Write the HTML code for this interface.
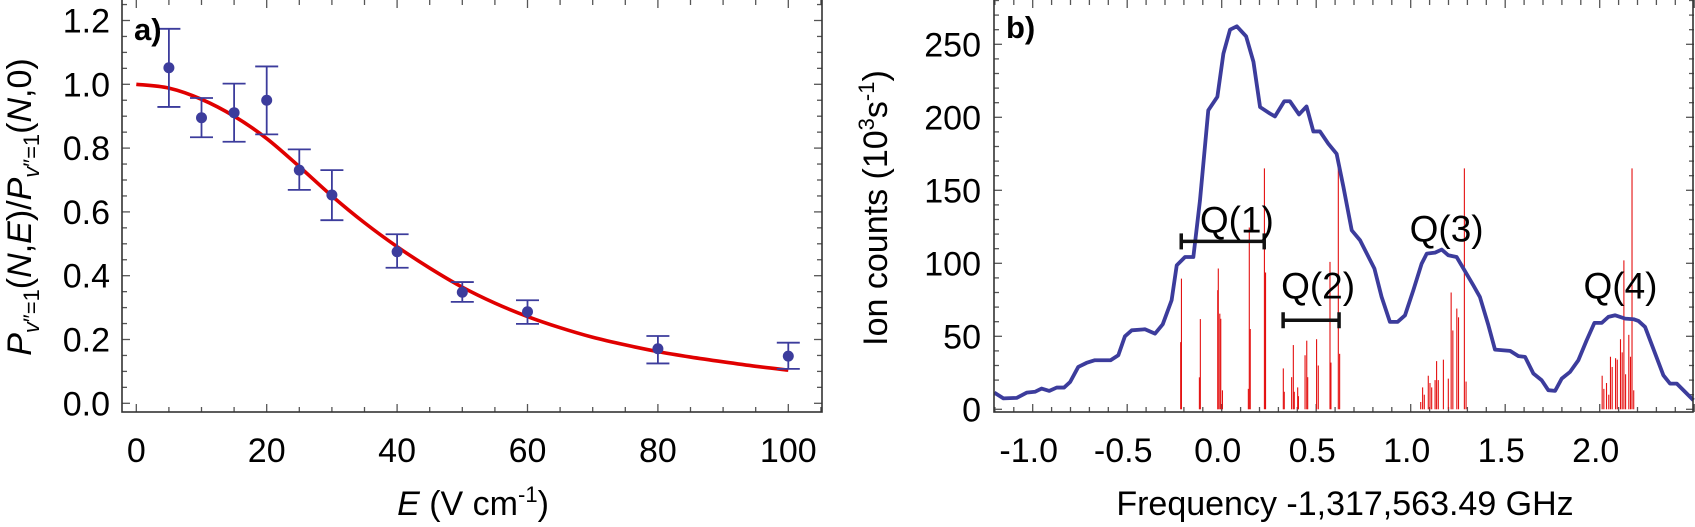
<!DOCTYPE html>
<html><head><meta charset="utf-8"><style>
html,body{margin:0;padding:0;background:#fff}
svg{display:block;font-family:"Liberation Sans",Arial,sans-serif}
</style></head><body>
<svg id="fig" width="1695" height="527" viewBox="0 0 1695 527" xmlns="http://www.w3.org/2000/svg">
<g id="pa"></g>
<g id="pb"></g>
</svg>
<script>
// ---- Panel a data ----
const eField = [5,10,15,20,25,30,40,50,60,80,100];
const ratio  = [1.052,0.895,0.911,0.950,0.731,0.653,0.475,0.348,0.287,0.171,0.148];
const errHi  = [1.174,0.957,1.002,1.056,0.796,0.731,0.530,0.380,0.323,0.211,0.190];
const errLo  = [0.929,0.834,0.820,0.843,0.669,0.574,0.425,0.318,0.249,0.125,0.108];
const fitE   = [0,5,10,15,20,25,30,35,40,45,50,55,60,65,70,75,80,85,90,95,100];
const fitV   = [1.0,0.988,0.953,0.900,0.830,0.742,0.650,0.566,0.491,0.424,0.364,0.314,0.272,0.237,0.207,0.183,0.162,0.145,0.130,0.116,0.104];
const aXTicks = [0,20,40,60,80,100];
const aYTicks = [0.0,0.2,0.4,0.6,0.8,1.0,1.2];
// ---- Panel b data ----
const specF = [-1.203,-1.155,-1.085,-1.032,-0.988,-0.953,-0.912,-0.873,-0.834,-0.802,-0.759,-0.715,-0.671,-0.588,-0.547,-0.512,-0.476,-0.406,-0.353,-0.312,-0.265,-0.238,-0.194,-0.150,-0.115,-0.071,-0.023,0.009,0.044,0.080,0.129,0.168,0.203,0.256,0.282,0.331,0.361,0.409,0.449,0.485,0.520,0.564,0.608,0.644,0.688,0.732,0.808,0.846,0.890,0.931,0.970,1.014,1.058,1.085,1.129,1.164,1.199,1.243,1.331,1.366,1.411,1.446,1.526,1.570,1.605,1.649,1.693,1.728,1.764,1.799,1.843,1.887,1.931,1.972,2.011,2.046,2.082,2.135,2.179,2.205,2.240,2.337,2.372,2.408,2.496];
const specV = [11.4,7.5,7.8,11.4,12,14.2,12.6,14.9,14.9,18.7,29,31.8,33.6,33.6,37,50,54.1,54.8,51.8,58.2,74.7,98.6,104.3,104.3,143,204.8,214,243.6,260,262.3,255.5,238,207,202.5,200.6,211,211,202,207.4,190.3,190.3,181.9,175,152.3,122.6,115.8,96.4,77,59.9,59.9,64.4,81.6,99.8,106.6,107.3,109.4,105.5,104.3,85,77,57.6,40.9,40,36.4,35.9,24.5,19.9,13.1,12.6,21,25.6,33.6,47.3,59.2,59.2,63.3,64.4,62.1,61.7,60.5,56.4,23.3,17.6,17.6,6.2];
const stickF = [-0.217,-0.213,-0.118,-0.113,-0.021,-0.018,-0.010,-0.005,0.004,0.141,0.146,0.151,0.226,0.232,
 0.326,0.331,0.370,0.379,0.384,0.402,0.406,0.441,0.450,0.455,0.502,0.511,0.573,0.578,0.617,0.624,
 1.053,1.063,1.072,1.093,1.102,1.111,1.129,1.137,1.146,1.173,1.199,1.214,1.223,1.244,1.253,1.284,1.293,
 2.013,2.022,2.036,2.048,2.057,2.066,2.084,2.093,2.110,2.119,2.128,2.137,2.154,2.163,2.171,2.180];
const stickV = [46,89.5,21.9,61.8,81.6,96.4,65.5,62,13,14,124.5,55,165,93.7,
 28,12,22,44,12,15,9,37,47,22,48,30,101,32,165,38,
 5,15,10,23,18,15,20,33,20,34,21,80,54,69,63,165,19,
 23,14,18,10,36,29,35,34,48,39,102,24,51,36,165,13];
const bXTicks = [-1.0,-0.5,0.0,0.5,1.0,1.5,2.0];
const bYTicks = [0,50,100,150,200,250];
const qLabels = ["Q(1)","Q(2)","Q(3)","Q(4)"];
const qLabelF = [0.08,0.51,1.19,2.11];
const qLabelV = [121,76,115,76];
const qBarLo = [-0.214,0.325];
const qBarHi = [0.225,0.621];
const qBarV  = [115,61];

const NS="http://www.w3.org/2000/svg";
function mk(parent,tag,attrs,text){const e=document.createElementNS(NS,tag);for(const k in attrs)e.setAttribute(k,attrs[k]);if(text!==undefined)e.textContent=text;parent.appendChild(e);return e;}
function smooth(pts){let d="M"+pts[0][0]+","+pts[0][1];for(let i=0;i<pts.length-1;i++){const p0=pts[Math.max(0,i-1)],p1=pts[i],p2=pts[i+1],p3=pts[Math.min(pts.length-1,i+2)];
 d+=" C"+(p1[0]+(p2[0]-p0[0])/6)+","+(p1[1]+(p2[1]-p0[1])/6)+" "+(p2[0]-(p3[0]-p1[0])/6)+","+(p2[1]-(p3[1]-p1[1])/6)+" "+p2[0]+","+p2[1];}return d;}

// ===== Panel a =====
const pa=document.getElementById('pa');
const aL=122,aR=822,aT=0,aB=412;
const ax=v=>136.3+v*6.52, ay=v=>403.3-v*319;
let e;
for(let v=0;v<=105;v+=5){const maj=v%20===0;const L=maj?8:5;
 e=mk(pa,'line',{x1:ax(v),x2:ax(v),y1:aB,y2:aB-L,stroke:'#555','stroke-width':1.3});
 
 e=mk(pa,'line',{x1:ax(v),x2:ax(v),y1:aT,y2:aT+L,stroke:'#555','stroke-width':1.3});
 }
for(let i=0;i<=26;i++){const v=i*0.05;const maj=i%4===0;const L=maj?8:5;const y=ay(v);if(y<0)continue;
 e=mk(pa,'line',{x1:aL,x2:aL+L,y1:y,y2:y,stroke:'#555','stroke-width':1.3});
 
 e=mk(pa,'line',{x1:aR,x2:aR-L,y1:y,y2:y,stroke:'#555','stroke-width':1.3});
 }
e=mk(pa,'rect',{x:aL,y:aT-1,width:aR-aL,height:aB-aT+1,fill:'none',stroke:'#333','stroke-width':1.6});

aXTicks.forEach(v=>{e=mk(pa,'text',{x:ax(v),y:462,'font-size':34,'text-anchor':'middle'},String(v));
 });
aYTicks.forEach(v=>{e=mk(pa,'text',{x:110,y:ay(v)+12,'font-size':34,'text-anchor':'end'},v.toFixed(1));
 });
e=mk(pa,'path',{d:smooth(fitE.map((v,i)=>[ax(v),ay(fitV[i])])),fill:'none',stroke:'#e00000','stroke-width':3.6});

eField.forEach((v,i)=>{const x=ax(v);const c='#3c3c9c';
 const g=mk(pa,'g',{});
 mk(g,'line',{x1:x,x2:x,y1:ay(errHi[i]),y2:ay(errLo[i]),stroke:c,'stroke-width':1.8});
 mk(g,'line',{x1:x-11.5,x2:x+11.5,y1:ay(errHi[i]),y2:ay(errHi[i]),stroke:c,'stroke-width':1.8});
 mk(g,'line',{x1:x-11.5,x2:x+11.5,y1:ay(errLo[i]),y2:ay(errLo[i]),stroke:c,'stroke-width':1.8});
 mk(g,'circle',{cx:x,cy:ay(ratio[i]),r:5.5,fill:c});});
e=mk(pa,'text',{x:134,y:40,'font-size':31,'font-weight':'bold'},'a)');

e=mk(pa,'text',{x:473,y:515,'font-size':34,'text-anchor':'middle'});
e.innerHTML='<tspan font-style="italic">E</tspan> (V cm<tspan font-size="22" dy="-13">-1</tspan><tspan dy="13">)</tspan>';

e=mk(pa,'text',{x:0,y:0,'font-size':34,'text-anchor':'middle',transform:'translate(31,207) rotate(-90)'});
e.innerHTML='<tspan font-style="italic">P</tspan><tspan font-size="22" dy="8"><tspan font-style="italic">v</tspan>″=1</tspan><tspan dy="-8">(</tspan><tspan font-style="italic">N</tspan>,<tspan font-style="italic">E</tspan>)/<tspan font-style="italic">P</tspan><tspan font-size="22" dy="8"><tspan font-style="italic">v</tspan>″=1</tspan><tspan dy="-8">(</tspan><tspan font-style="italic">N</tspan>,0)';


// ===== Panel b =====
const pb=document.getElementById('pb');
const bL=994,bR=1694,bT=0,bB=412;
const bx=v=>1221.7+v*189, by=v=>409.3-v*1.46;
for(let i=-12;i<=25;i++){const v=i/10;const x=bx(v);if(x<bL)continue;const maj=i%5===0;const L=maj?8:5;
 e=mk(pb,'line',{x1:x,x2:x,y1:bB,y2:bB-L,stroke:'#555','stroke-width':1.3});
 
 e=mk(pb,'line',{x1:x,x2:x,y1:bT,y2:bT+L,stroke:'#555','stroke-width':1.3});
 }
for(let v=0;v<=280;v+=10){const y=by(v);if(y<0)continue;const maj=v%50===0;const L=maj?8:5;
 e=mk(pb,'line',{x1:bL,x2:bL+L,y1:y,y2:y,stroke:'#555','stroke-width':1.3});
 
 e=mk(pb,'line',{x1:bR,x2:bR-L,y1:y,y2:y,stroke:'#555','stroke-width':1.3});
 }
stickF.forEach((f,i)=>{e=mk(pb,'line',{x1:bx(f),x2:bx(f),y1:by(0),y2:by(stickV[i]),stroke:'#e41010','stroke-width':1.1});
 });
e=mk(pb,'polyline',{points:specF.map((f,i)=>bx(f)+','+by(specV[i])).join(' '),fill:'none',stroke:'#3c3c9c','stroke-width':3.8,'stroke-linejoin':'round'});

qBarLo.forEach((lo,i)=>{const y=by(qBarV[i]);const g=mk(pb,'g',{stroke:'#111','stroke-width':3.5});
 
 mk(g,'line',{x1:bx(lo),x2:bx(qBarHi[i]),y1:y,y2:y});
 mk(g,'line',{x1:bx(lo),x2:bx(lo),y1:y-8,y2:y+8});
 mk(g,'line',{x1:bx(qBarHi[i]),x2:bx(qBarHi[i]),y1:y-8,y2:y+8});});
qLabels.forEach((t,i)=>{e=mk(pb,'text',{x:bx(qLabelF[i]),y:by(qLabelV[i]),'font-size':37,'text-anchor':'middle'},t);
 });
e=mk(pb,'rect',{x:bL,y:bT-1,width:bR-bL-1,height:bB-bT+1,fill:'none',stroke:'#333','stroke-width':1.6});

bXTicks.forEach(v=>{e=mk(pb,'text',{x:bx(v)-4,y:462,'font-size':34,'text-anchor':'middle'},v.toFixed(1));
 });
bYTicks.forEach(v=>{e=mk(pb,'text',{x:981,y:by(v)+12,'font-size':34,'text-anchor':'end'},String(v));
 });
e=mk(pb,'text',{x:1006,y:38,'font-size':31,'font-weight':'bold'},'b)');

e=mk(pb,'text',{x:1345,y:515,'font-size':34,'text-anchor':'middle'},'Frequency -1,317,563.49 GHz');

e=mk(pb,'text',{x:0,y:0,'font-size':34,'text-anchor':'middle',transform:'translate(887,208) rotate(-90)'});
e.innerHTML='Ion counts (10<tspan font-size="22" dy="-13">3</tspan><tspan dy="13">s</tspan><tspan font-size="22" dy="-13">-1</tspan><tspan dy="13">)</tspan>';

</script>
</body></html>
